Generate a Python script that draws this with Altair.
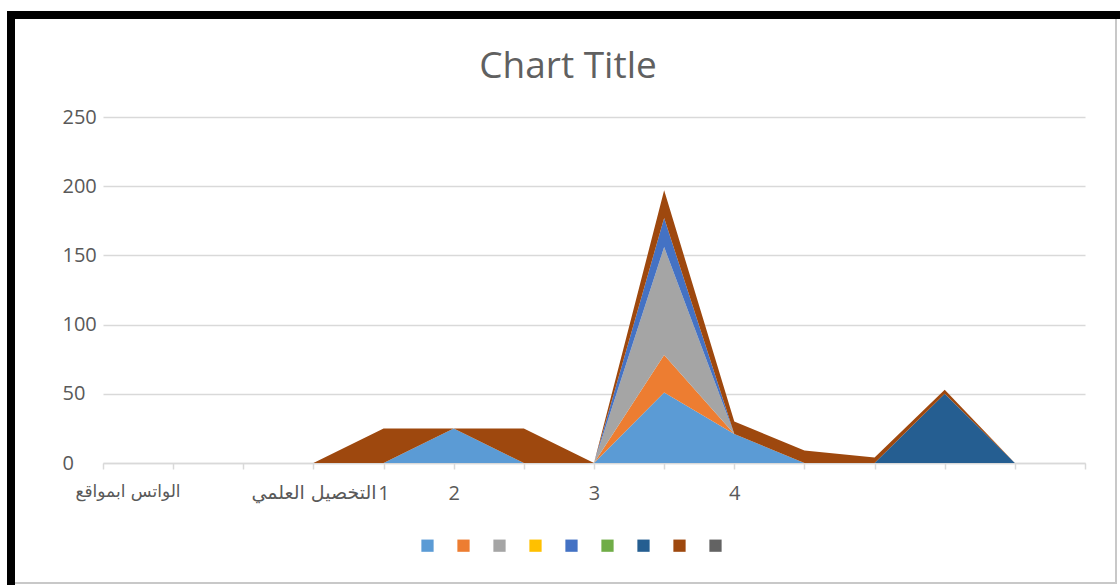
import altair as alt
import pandas as pd

# ---- data ----
positions = list(range(15))
axis_labels = {0: "الواتس ابمواقع", 3: "التخصيل العلمي", 4: "1", 5: "2", 7: "3", 9: "4"}
series_names = ["S1", "S2", "S3", "S4", "S5", "S6", "S7", "S8", "S9"]
s1 = [0, 0, 0, 0, 0, 25, 0, 0, 51, 21, 0, 0, 0, 0, 0]
s2 = [0, 0, 0, 0, 0, 0, 0, 0, 27, 0, 0, 0, 0, 0, 0]
s3 = [0, 0, 0, 0, 0, 0, 0, 0, 78, 0, 0, 0, 0, 0, 0]
s4 = [0, 0, 0, 0, 0, 0, 0, 0, 0, 0, 0, 0, 0, 0, 0]
s5 = [0, 0, 0, 0, 0, 0, 0, 0, 21, 0, 0, 0, 0, 0, 0]
s6 = [0, 0, 0, 0, 0, 0, 0, 0, 0, 0, 0, 0, 0, 0, 0]
s7 = [0, 0, 0, 0, 0, 0, 0, 0, 0, 0, 0, 0, 50, 0, 0]
s8 = [0, 0, 0, 0, 25, 0, 25, 0, 20, 9, 9, 4, 3, 0, 0]
s9 = [0, 0, 0, 0, 0, 0, 0, 0, 0, 0, 0, 0, 0, 0, 0]
colors = ["#5B9BD5", "#ED7D31", "#A5A5A5", "#FFC000", "#4472C4",
          "#70AD47", "#255E91", "#9E480E", "#636363"]
y_ticks = [0, 50, 100, 150, 200, 250]

all_series = [s1, s2, s3, s4, s5, s6, s7, s8, s9]
rows = []
for k, (name, vals) in enumerate(zip(series_names, all_series)):
    for p, v in zip(positions, vals):
        rows.append({"pos": p, "value": v, "series": name, "k": k})
df = pd.DataFrame(rows)

lab_df = pd.DataFrame([{"pos": p, "label": t} for p, t in axis_labels.items() if p == 0])

W, H = 982, 346
GRAY = "#595959"
LINE = "#D9D9D9"

expr = "''"
for p, t in reversed([(p, t) for p, t in axis_labels.items() if p != 0]):
    expr = f"datum.value == {p} ? '{t}' : ({expr})"

xscale = alt.Scale(domain=[0, 14], nice=False, zero=False)

areas = alt.Chart(df).mark_area(interpolate="linear", opacity=1).encode(
    x=alt.X("pos:Q", scale=xscale,
            axis=alt.Axis(values=positions, labelExpr=expr, title=None, grid=False,
                          domainColor=LINE, domainWidth=1.5, tickColor=LINE, tickWidth=1.5,
                          tickSize=6, labelPadding=14, labelColor=GRAY,
                          labelFont=alt.condition("datum.value <= 3", alt.value("DejaVu Sans"), alt.value("Open Sans")),
                          labelFontSize=alt.condition("datum.value <= 3", alt.value(19), alt.value(20)),
                          labelOverlap=False, labelBound=False, labelFlush=False)),
    y=alt.Y("value:Q", stack="zero",
            scale=alt.Scale(domain=[0, 250], nice=False),
            axis=alt.Axis(values=y_ticks, title=None, domain=False, ticks=False, tickSize=0,
                          gridColor=LINE, gridWidth=1.5, labelAlign="left", labelPadding=41,
                          labelFont="Open Sans", labelFontSize=20, labelColor=GRAY)),
    color=alt.Color("series:N", scale=alt.Scale(domain=series_names, range=colors),
                    legend=alt.Legend(orient="none", legendX=318, legendY=422,
                                      direction="horizontal", columns=9, title=None,
                                      symbolType="square", symbolSize=150, symbolStrokeWidth=0,
                                      labelExpr="''", labelOffset=0, columnPadding=23)),
    order=alt.Order("k:Q", sort="ascending"),
)

first_label = alt.Chart(lab_df).mark_text(
    font="DejaVu Sans", fontSize=17, color=GRAY, dx=25, baseline="top"
).encode(
    x=alt.X("pos:Q", scale=xscale),
    y=alt.value(H + 21),
    text="label:N",
)

# decorative frame around the chart area (picture border)
frame_top = alt.Chart(lab_df).mark_rule(color="black", strokeWidth=8).encode(
    x=alt.value(-96), x2=alt.value(1017), y=alt.value(-102))
frame_left = alt.Chart(lab_df).mark_rule(color="black", strokeWidth=8).encode(
    x=alt.value(-92), y=alt.value(-106), y2=alt.value(468))
frame_right = alt.Chart(lab_df).mark_rule(color="#C8C8C8", strokeWidth=2).encode(
    x=alt.value(1013), y=alt.value(-98), y2=alt.value(466))
frame_bottom = alt.Chart(lab_df).mark_rule(color="#C8C8C8", strokeWidth=2).encode(
    x=alt.value(-88), x2=alt.value(1014), y=alt.value(466))

chart = alt.layer(areas, first_label, frame_top, frame_left, frame_right, frame_bottom).properties(
    width=W, height=H,
    title=alt.Title("Chart Title", font="Open Sans", fontSize=37, fontWeight="normal",
                    color="#606060", dx=-26, dy=79, offset=0, anchor="middle"),
    autosize=alt.AutoSizeParams(type="none"),
    padding={"left": 103, "top": 117, "right": 35, "bottom": 122},
    background="white",
).configure_view(stroke=None)

chart.save("out.html", embed_options={"renderer": "svg", "actions": False})
